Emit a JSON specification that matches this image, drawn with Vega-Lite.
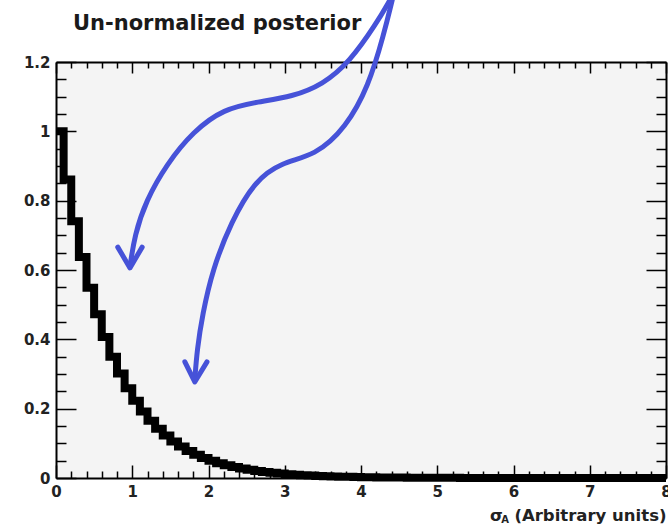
{
  "$schema": "https://vega.github.io/schema/vega-lite/v6.json",
  "autosize": {"type": "none"},
  "width": 610,
  "height": 416,
  "padding": {"left": 56, "top": 62, "right": 2, "bottom": 46},
  "background": "white",
  "config": {"view": {"fill": "#f4f4f4", "stroke": null}},
  "title": {"text": "Un-normalized posterior", "anchor": "start", "frame": "group", "dx": 17, "offset": 0, "dy": 61, "baseline": "alphabetic", "font": "DejaVu Sans", "fontWeight": "bold", "fontSize": 21, "color": "#1a1a1a"},
  "datasets": {
    "hist": [
      {"x": 0.0, "y": 1.0}, {"x": 0.1, "y": 0.8607}, {"x": 0.2, "y": 0.7408}, {"x": 0.3, "y": 0.6376}, {"x": 0.4, "y": 0.5488},
      {"x": 0.5, "y": 0.4724}, {"x": 0.6, "y": 0.4066}, {"x": 0.7, "y": 0.3499}, {"x": 0.8, "y": 0.3012}, {"x": 0.9, "y": 0.2592},
      {"x": 1.0, "y": 0.2231}, {"x": 1.1, "y": 0.192}, {"x": 1.2, "y": 0.1653}, {"x": 1.3, "y": 0.1423}, {"x": 1.4, "y": 0.1225},
      {"x": 1.5, "y": 0.1054}, {"x": 1.6, "y": 0.0907}, {"x": 1.7, "y": 0.0781}, {"x": 1.8, "y": 0.0672}, {"x": 1.9, "y": 0.0578},
      {"x": 2.0, "y": 0.0498}, {"x": 2.1, "y": 0.0429}, {"x": 2.2, "y": 0.0369}, {"x": 2.3, "y": 0.0317}, {"x": 2.4, "y": 0.0273},
      {"x": 2.5, "y": 0.0235}, {"x": 2.6, "y": 0.0202}, {"x": 2.7, "y": 0.0174}, {"x": 2.8, "y": 0.015}, {"x": 2.9, "y": 0.0129},
      {"x": 3.0, "y": 0.0111}, {"x": 3.1, "y": 0.0096}, {"x": 3.2, "y": 0.0082}, {"x": 3.3, "y": 0.0071}, {"x": 3.4, "y": 0.0061},
      {"x": 3.5, "y": 0.0052}, {"x": 3.6, "y": 0.0045}, {"x": 3.7, "y": 0.0039}, {"x": 3.8, "y": 0.0033}, {"x": 3.9, "y": 0.0029},
      {"x": 4.0, "y": 0.0025}, {"x": 4.1, "y": 0.0021}, {"x": 4.2, "y": 0.0018}, {"x": 4.3, "y": 0.0016}, {"x": 4.4, "y": 0.0014},
      {"x": 4.5, "y": 0.0012}, {"x": 4.6, "y": 0.001}, {"x": 4.7, "y": 0.0009}, {"x": 4.8, "y": 0.0007}, {"x": 4.9, "y": 0.0006},
      {"x": 5.0, "y": 0.0006}, {"x": 5.1, "y": 0.0005}, {"x": 5.2, "y": 0.0004}, {"x": 5.3, "y": 0.0003}, {"x": 5.4, "y": 0.0003},
      {"x": 5.5, "y": 0.0003}, {"x": 5.6, "y": 0.0002}, {"x": 5.7, "y": 0.0002}, {"x": 5.8, "y": 0.0002}, {"x": 5.9, "y": 0.0001},
      {"x": 6.0, "y": 0.0001}, {"x": 6.1, "y": 0.0001}, {"x": 6.2, "y": 0.0001}, {"x": 6.3, "y": 0.0001}, {"x": 6.4, "y": 0.0001},
      {"x": 6.5, "y": 0.0001}, {"x": 6.6, "y": 0}, {"x": 6.7, "y": 0}, {"x": 6.8, "y": 0}, {"x": 6.9, "y": 0},
      {"x": 7.0, "y": 0}, {"x": 7.1, "y": 0}, {"x": 7.2, "y": 0}, {"x": 7.3, "y": 0}, {"x": 7.4, "y": 0},
      {"x": 7.5, "y": 0}, {"x": 7.6, "y": 0}, {"x": 7.7, "y": 0}, {"x": 7.8, "y": 0}, {"x": 7.9, "y": 0},
      {"x": 8.0, "y": 0}
    ],
    "shafts": [
      {"id": "a1", "ord": 1, "x": 4.38, "y": 1.379}, {"id": "a1", "ord": 2, "x": 4.2, "y": 1.31}, {"id": "a1", "ord": 3, "x": 3.85, "y": 1.2},
      {"id": "a1", "ord": 4, "x": 3.5, "y": 1.135}, {"id": "a1", "ord": 5, "x": 3.1, "y": 1.1}, {"id": "a1", "ord": 6, "x": 2.65, "y": 1.085},
      {"id": "a1", "ord": 7, "x": 2.2, "y": 1.065}, {"id": "a1", "ord": 8, "x": 1.8, "y": 1.0}, {"id": "a1", "ord": 9, "x": 1.45, "y": 0.905},
      {"id": "a1", "ord": 10, "x": 1.18, "y": 0.8}, {"id": "a1", "ord": 11, "x": 1.03, "y": 0.7}, {"id": "a1", "ord": 12, "x": 0.97, "y": 0.609},
      {"id": "a2", "ord": 1, "x": 4.41, "y": 1.379}, {"id": "a2", "ord": 2, "x": 4.3, "y": 1.28}, {"id": "a2", "ord": 3, "x": 4.1, "y": 1.13},
      {"id": "a2", "ord": 4, "x": 3.8, "y": 1.01}, {"id": "a2", "ord": 5, "x": 3.4, "y": 0.93}, {"id": "a2", "ord": 6, "x": 2.95, "y": 0.91},
      {"id": "a2", "ord": 7, "x": 2.6, "y": 0.855}, {"id": "a2", "ord": 8, "x": 2.3, "y": 0.74}, {"id": "a2", "ord": 9, "x": 2.05, "y": 0.6},
      {"id": "a2", "ord": 10, "x": 1.92, "y": 0.47}, {"id": "a2", "ord": 11, "x": 1.85, "y": 0.37}, {"id": "a2", "ord": 12, "x": 1.82, "y": 0.283}
    ],
    "heads": [
      {"id": "h1", "ord": 1, "x": 0.81, "y": 0.666}, {"id": "h1", "ord": 2, "x": 0.97, "y": 0.606}, {"id": "h1", "ord": 3, "x": 1.13, "y": 0.666},
      {"id": "h2", "ord": 1, "x": 1.69, "y": 0.335}, {"id": "h2", "ord": 2, "x": 1.82, "y": 0.277}, {"id": "h2", "ord": 3, "x": 1.98, "y": 0.335}
    ],
    "sub": [{"x": 5.89, "y": -0.121, "t": "A"}]
  },
  "resolve": {"axis": {"x": "independent", "y": "independent"}},
  "layer": [
    {
      "data": {"name": "hist"},
      "mark": {"type": "line", "interpolate": "step-after", "color": "#000000", "strokeWidth": 8, "strokeCap": "butt", "strokeJoin": "miter", "clip": false},
      "encoding": {
        "x": {"field": "x", "type": "quantitative", "scale": {"domain": [0, 8], "nice": false, "zero": false},
          "axis": {"orient": "bottom", "grid": false,
            "values": [0,0.2,0.4,0.6,0.8,1,1.2,1.4,1.6,1.8,2,2.2,2.4,2.6,2.8,3,3.2,3.4,3.6,3.8,4,4.2,4.4,4.6,4.8,5,5.2,5.4,5.6,5.8,6,6.2,6.4,6.6,6.8,7,7.2,7.4,7.6,7.8,8],
            "tickSize": {"condition": {"test": "abs(datum.value - round(datum.value)) < 0.001", "value": -13}, "value": -7},
            "labelExpr": "abs(datum.value - round(datum.value)) < 0.001 ? format(datum.value, '~g') : ''",
            "labelPadding": 19, "labelFlush": false, "labelOverlap": false, "labelBound": false,
            "labelFont": "DejaVu Sans", "labelFontWeight": "bold", "labelFontSize": 15, "labelColor": "#222222",
            "domainColor": "#000000", "domainWidth": 2, "tickColor": "#000000", "tickWidth": 1.5,
            "title": "σ\u00a0\u00a0(Arbitrary units)", "titleAnchor": "end", "titleFont": "DejaVu Sans", "titleFontWeight": "bold", "titleFontSize": 16.5, "titleColor": "#222222", "titlePadding": 2}},
        "y": {"field": "y", "type": "quantitative", "scale": {"domain": [0, 1.2], "nice": false, "zero": false},
          "axis": {"orient": "left", "grid": false,
            "values": [0,0.05,0.1,0.15,0.2,0.25,0.3,0.35,0.4,0.45,0.5,0.55,0.6,0.65,0.7,0.75,0.8,0.85,0.9,0.95,1,1.05,1.1,1.15,1.2],
            "tickSize": {"condition": {"test": "abs(datum.value*5 - round(datum.value*5)) < 0.001", "value": -20}, "value": -10},
            "labelExpr": "abs(datum.value*5 - round(datum.value*5)) < 0.001 ? format(datum.value, '~g') : ''",
            "labelPadding": 26, "labelOverlap": false, "labelBound": false, "labelFlush": false,
            "labelFont": "DejaVu Sans", "labelFontWeight": "bold", "labelFontSize": 15, "labelColor": "#222222",
            "domainColor": "#000000", "domainWidth": 2, "tickColor": "#000000", "tickWidth": 1.5,
            "title": null}}
      }
    },
    {
      "data": {"name": "shafts"},
      "mark": {"type": "line", "interpolate": "basis", "color": "#4652d8", "strokeWidth": 5, "strokeCap": "round", "clip": false},
      "encoding": {
        "x": {"field": "x", "type": "quantitative", "scale": {"domain": [0, 8], "nice": false, "zero": false},
          "axis": {"orient": "top", "grid": false, "labels": false, "title": null,
            "values": [0,0.2,0.4,0.6,0.8,1,1.2,1.4,1.6,1.8,2,2.2,2.4,2.6,2.8,3,3.2,3.4,3.6,3.8,4,4.2,4.4,4.6,4.8,5,5.2,5.4,5.6,5.8,6,6.2,6.4,6.6,6.8,7,7.2,7.4,7.6,7.8,8],
            "tickSize": {"condition": {"test": "abs(datum.value - round(datum.value)) < 0.001", "value": -11}, "value": -6},
            "domainColor": "#000000", "domainWidth": 2, "tickColor": "#000000", "tickWidth": 1.5}},
        "y": {"field": "y", "type": "quantitative", "scale": {"domain": [0, 1.2], "nice": false, "zero": false},
          "axis": {"orient": "right", "grid": false, "labels": false, "title": null,
            "values": [0,0.05,0.1,0.15,0.2,0.25,0.3,0.35,0.4,0.45,0.5,0.55,0.6,0.65,0.7,0.75,0.8,0.85,0.9,0.95,1,1.05,1.1,1.15,1.2],
            "tickSize": {"condition": {"test": "abs(datum.value*5 - round(datum.value*5)) < 0.001", "value": -20}, "value": -10},
            "domainColor": "#000000", "domainWidth": 2, "tickColor": "#000000", "tickWidth": 1.5}},
        "detail": {"field": "id", "type": "nominal"},
        "order": {"field": "ord", "type": "quantitative"}
      }
    },
    {
      "data": {"name": "heads"},
      "mark": {"type": "line", "interpolate": "linear", "color": "#4652d8", "strokeWidth": 5, "strokeCap": "round", "strokeJoin": "round", "clip": false},
      "encoding": {
        "x": {"field": "x", "type": "quantitative", "scale": {"domain": [0, 8], "nice": false, "zero": false}, "axis": null},
        "y": {"field": "y", "type": "quantitative", "scale": {"domain": [0, 1.2], "nice": false, "zero": false}, "axis": null},
        "detail": {"field": "id", "type": "nominal"},
        "order": {"field": "ord", "type": "quantitative"}
      }
    },
    {
      "data": {"name": "sub"},
      "mark": {"type": "text", "font": "DejaVu Sans", "fontWeight": "bold", "fontSize": 10, "color": "#222222", "align": "center", "baseline": "middle", "clip": false},
      "encoding": {
        "x": {"field": "x", "type": "quantitative", "scale": {"domain": [0, 8], "nice": false, "zero": false}, "axis": null},
        "y": {"field": "y", "type": "quantitative", "scale": {"domain": [0, 1.2], "nice": false, "zero": false}, "axis": null},
        "text": {"field": "t", "type": "nominal"}
      }
    }
  ]
}
